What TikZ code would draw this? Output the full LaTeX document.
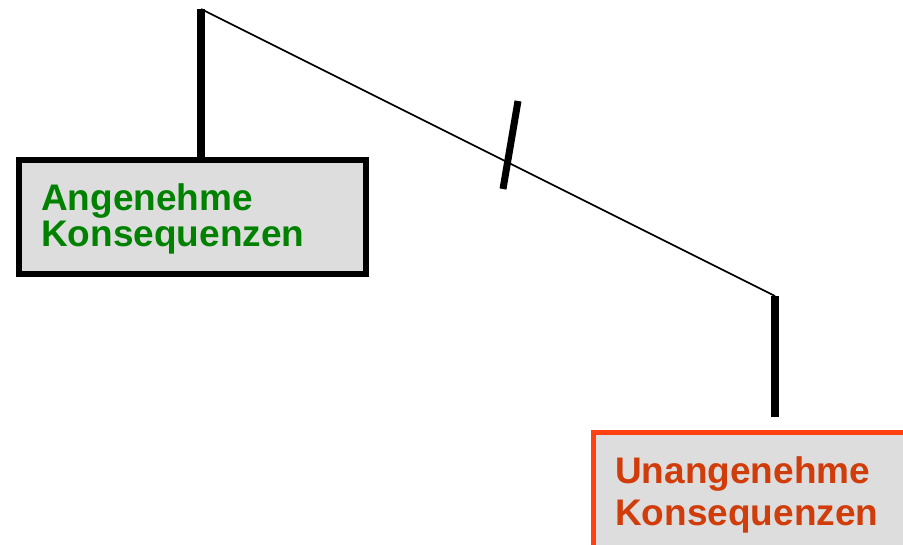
\documentclass[tikz,border=0pt]{standalone}
\usepackage{fontspec}
\setmainfont{Liberation Sans}
\definecolor{boxgray}{RGB}{221,221,221}
\definecolor{goodgreen}{RGB}{0,130,0}
\definecolor{badtext}{RGB}{208,60,10}
\definecolor{badframe}{RGB}{255,64,16}
\begin{document}
\begin{tikzpicture}[x=1pt,y=-1pt,
  boxshape/.style={draw, fill=boxgray, inner sep=0, outer sep=0, anchor=north west},
  boxtext/.style={anchor=base west, inner sep=0, font=\fontsize{37}{36}\selectfont\bfseries},
  stem/.style={line width=7.5pt},
  beam/.style={line width=1.6pt}]
\useasboundingbox (0,0) rectangle (903,544);
\clip (0,0) rectangle (903,544);
% left box
\node[boxshape, line width=6pt, minimum width=347pt, minimum height=114pt] (lbox) at (19,160) {};
\node[boxtext, text=goodgreen] (l1) at (41,210) {Angenehme};
\node[boxtext, text=goodgreen] (l2) at (41,246) {Konsequenzen};
% right box
\node[boxshape, draw=badframe, line width=5pt, minimum width=340pt, minimum height=140pt] (rbox) at (593.5,432.5) {};
\node[boxtext, text=badtext] (r1) at (615,483) {Unangenehme};
\node[boxtext, text=badtext] (r2) at (615,525) {Konsequenzen};
% connectors
\coordinate (top) at (201,9);
\coordinate (low) at (775,296);
\coordinate (lowend) at (775,417);
\draw[stem] (top) -- (lbox.north west -| top);
\draw[beam] (top) -- (low);
\draw[stem] (low) -- (lowend);
% interruption mark
\coordinate (m1) at (518,101);
\coordinate (m2) at (503,189);
\draw[line width=7pt] (m1) -- (m2);
\end{tikzpicture}
\end{document}
